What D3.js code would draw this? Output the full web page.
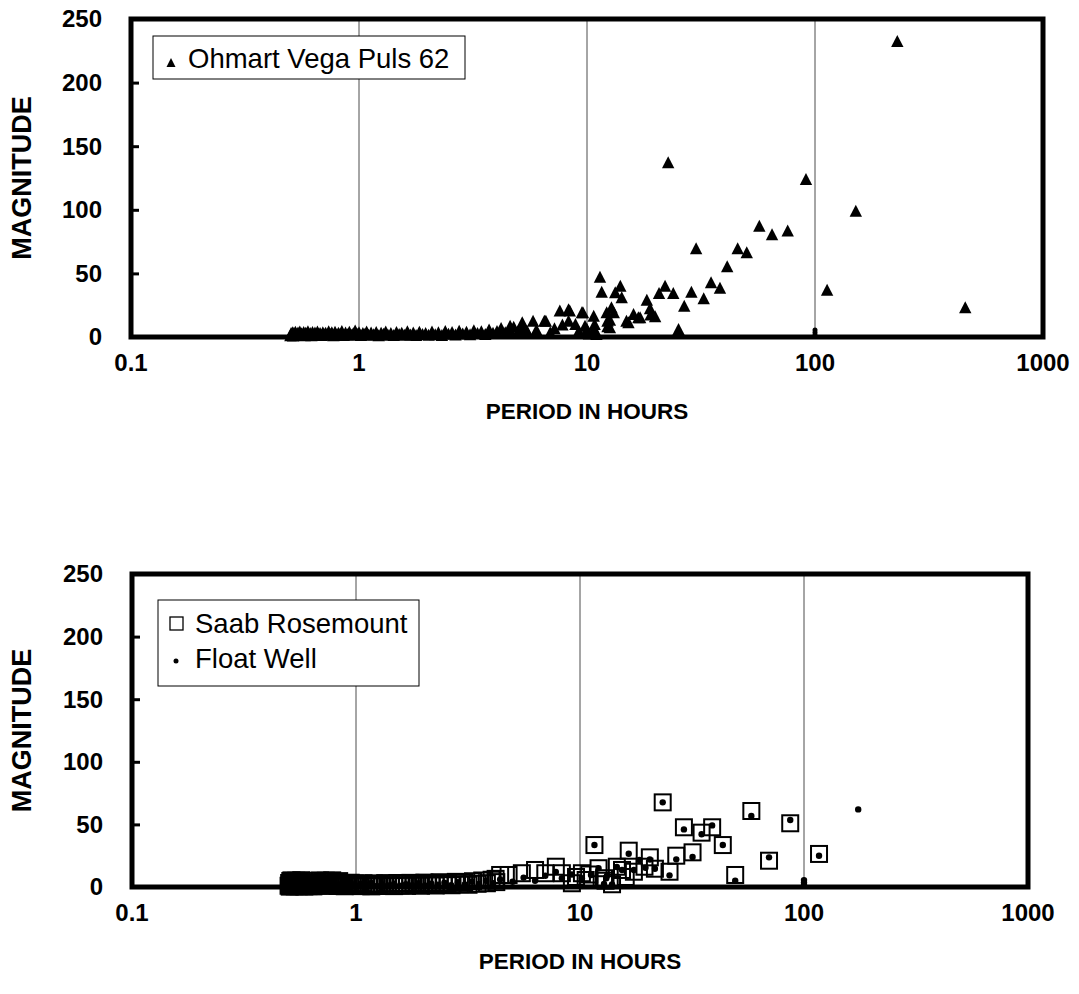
<!DOCTYPE html>
<html>
<head>
<meta charset="utf-8">
<script src="https://cdn.jsdelivr.net/npm/d3@7"></script>
<style>
  body { margin: 0; background: #fff; }
  text { font-family: "Liberation Sans", Arial, sans-serif; }
</style>
</head>
<body>
<div id="chart"></div>
<script>
// tick values
var xTicks = [0.1, 1, 10, 100, 1000];
var yTicks = [0, 50, 100, 150, 200, 250];
var gridTicks = [1, 10, 100];

// top chart: Ohmart Vega Puls 62, [period (h), magnitude]
var ohmartHigh = [
  [229.6,232],[22.7,136.5],[91.3,123.4],[151,98.5],[113,36.4],[456,22.6],
  [57,86.7],[64.8,80],[75.9,83],[45.8,69],[50.2,65.8],[30.1,69],[41.2,54.8],
  [35,42.2],[38.3,38],[32.5,29.6],[28.7,34.8],[26.7,23.8],[25.2,5.5],[22,39.5],
  [23.9,33.8],[20.7,33.8],[18.3,28.5],[18.9,21.8],[19.9,15.5],[17.1,14.7],[16,17.3],
  [15.2,10.8],[14,39.5],[14.2,30.4],[13.3,34.3],[11.4,46.6],[11.6,34.8],[12.8,22.6],
  [12.2,18.6],[12.6,12.8],[12.3,7.6],[10.7,16],[9.5,18.6],[10,5.5],[10.6,3],
  [14.9,12],[16.8,14.7],[19,17],[13.1,18.6],[12.3,12],[12.6,6.8],[10.8,9.4],
  [9.6,18.6],[8.4,20],[7.6,20],[8.3,12],[8.9,9.4],[6.6,12],[5.8,12],[5.2,10.8],
  [4.6,8.1],[6.5,12],[8.3,21],[10.2,2],[11,1.5],[9.2,4],[7.2,6],[6.9,3],[6,5],
  [5.5,2.5],[7.8,9],[9.8,8],[10.9,4]
];
var ohmartLow = [
  [0.50,0.6],[0.503,2.1],[0.507,1.3],[0.51,3.0],[0.514,0.4],[0.518,2.5],[0.522,1.0],
  [0.526,3.4],[0.53,1.8],[0.535,0.7],[0.54,2.8],[0.545,1.5],[0.55,3.6],[0.555,0.9],
  [0.56,2.2],[0.566,1.2],[0.572,3.1],[0.578,0.5],[0.584,2.6],[0.59,1.7],[0.597,3.8],
  [0.604,1.0],[0.611,2.3],[0.618,0.6],[0.625,3.2],[0.633,1.4],[0.641,2.7],[0.649,0.8],
  [0.657,3.5],[0.666,1.9],[0.675,2.4],[0.684,0.7],[0.694,3.0],[0.704,1.3],[0.714,2.6],
  [0.725,0.9],[0.736,3.7],[0.748,1.6],[0.76,2.9],[0.772,0.5],[0.785,3.3],[0.798,1.1],
  [0.812,2.5],[0.826,1.8],[0.841,3.9],[0.857,0.8],[0.873,2.7],[0.89,1.4],[0.907,3.4],
  [0.925,1.0],[0.943,2.2],[0.962,4.3],[0.982,1.5],[1.0,3.0],[1.02,0.7],[1.04,2.4],
  [1.06,1.6],[1.08,3.5],[1.10,0.9],[1.13,2.8],[1.16,1.3],[1.19,3.2],[1.22,0.6],
  [1.25,2.5],[1.28,1.7],[1.31,3.6],[1.34,1.0],[1.38,2.3],[1.42,0.8],[1.46,3.1],
  [1.50,1.5],[1.54,2.6],[1.58,0.9],[1.63,3.8],[1.68,1.2],[1.73,2.7],[1.78,0.7],
  [1.84,3.3],[1.90,1.6],[1.96,2.4],[2.02,1.0],[2.09,3.5],[2.16,1.4],[2.23,2.9],
  [2.31,0.8],[2.39,3.9],[2.47,1.8],[2.56,3.1],[2.65,1.2],[2.75,4.2],[2.85,2.0],
  [2.96,3.4],[3.07,1.3],[3.19,4.6],[3.31,2.3],[3.44,3.7],[3.58,1.6],[3.72,5.1],
  [3.87,2.6],[4.03,4.0],[4.20,6.2],[4.38,2.9],[4.57,5.4],[4.77,7.3],[4.98,3.5],
  [5.2,6.0],[5.45,4.2]
];
var ohmartMarks = [[100,1.5],[100,3.5],[100,5.5]];

// bottom chart: Saab Rosemount (squares) and Float Well (dots)
var saabHigh = [
  [23.4,67.6],[58.2,60.7],[86.8,50.9],[116.7,26.4],[69.8,21],[49.3,9.6],[43.4,33.5],
  [38.9,47.7],[34.9,43.4],[29.1,47.7],[31.8,27.7],[26.9,25],[25.1,12.2],[21.6,14.6],
  [20.5,23.7],[16.5,29],[17.4,12.2],[19.4,16.2],[11.6,33.5],[12.1,15],[14.6,16.2],
  [15.4,13.6],[13.9,2.2],[12.8,7],[10.6,5.6],[10.2,11],[9.2,3],[7.8,16.2],[8.3,11],
  [7.0,11],[6.3,13.6],[5.5,11],[4.8,9.6],[4.4,9.6],[9.6,8],[11,10],[13,5],[16,8]
];
var saabLow = [
  [0.500,1.0],[0.503,3.2],[0.506,0.3],[0.509,4.8],[0.512,2.0],[0.515,5.3],[0.518,0.8],
  [0.521,3.7],[0.525,1.6],[0.529,4.4],[0.533,0.5],[0.537,2.9],[0.541,5.0],[0.545,1.3],
  [0.55,3.5],[0.555,0.6],[0.56,4.6],[0.565,2.2],[0.57,5.4],[0.576,1.0],[0.582,3.0],
  [0.588,0.4],[0.594,2.5],[0.60,1.4],[0.607,3.3],[0.614,0.7],[0.621,2.0],[0.629,1.1],
  [0.637,2.8],[0.645,0.5],[0.654,1.7],[0.663,3.6],[0.672,4.9],[0.681,1.2],[0.691,5.2],
  [0.701,2.4],[0.711,4.4],[0.722,0.9],[0.733,5.0],[0.745,2.7],[0.757,4.1],[0.77,1.3],
  [0.783,5.3],[0.797,2.0],[0.811,3.8],[0.826,0.8],[0.841,4.7],[0.857,1.7],[0.874,3.2],
  [0.891,0.6],[0.909,2.6],[0.928,1.5],[0.947,3.4],[0.967,0.9],[0.988,2.8],[1.01,1.2],
  [1.03,2.5],[1.05,0.7],[1.08,3.0],[1.11,1.4],[1.14,2.2],[1.17,0.5],[1.20,2.9],
  [1.23,1.1],[1.27,2.4],[1.31,0.8],[1.35,3.1],[1.39,1.5],[1.43,2.6],[1.48,0.7],
  [1.53,3.2],[1.58,1.3],[1.63,2.5],[1.69,0.9],[1.75,3.3],[1.81,1.6],[1.88,2.7],
  [1.95,1.0],[2.02,3.5],[2.10,1.7],[2.18,2.9],[2.27,1.2],[2.36,3.8],[2.46,2.0],
  [2.56,3.2],[2.67,1.4],[2.79,4.1],[2.91,2.3],[3.04,3.6],[3.18,1.8],[3.33,4.6],
  [3.49,2.6],[3.66,5.2],[3.84,3.0],[4.03,5.8],[4.23,3.9],[4.20,6.5]
];
var floatHigh = [
  [23.4,67.6],[58.2,56.7],[86.8,53.5],[174.6,62],[116.7,25],[69.8,23.7],[49.3,5],
  [43.4,33.5],[38.9,49.2],[34.9,42.1],[29.1,46],[31.8,24],[26.9,22.1],[25.1,9.3],
  [21.6,14.6],[20.5,22],[16.5,26.6],[17.4,13.6],[18.4,21.6],[19.6,15.4],[11.6,33.5],
  [12.1,15],[13.1,7],[11.2,9.6],[10.2,7],[14.6,16],[15.4,13.6],[13.9,2],[12.8,2.5],
  [9.2,10],[7.8,12],[8.3,7],[7.0,9],[6.3,5],[13.2,9],
  [100,1.5],[100,3.5],[100,5.5]
];
var floatLow = [
  [0.50,2.0],[0.52,4.0],[0.54,1.2],[0.56,3.3],[0.58,0.6],[0.60,2.6],[0.63,1.5],
  [0.66,3.8],[0.69,0.9],[0.72,2.4],[0.75,1.7],[0.78,3.1],[0.82,0.8],[0.86,2.2],
  [0.90,1.4],[0.95,2.9],[1.00,1.0],[1.05,2.5],[1.11,1.6],[1.17,3.2],[1.24,0.9],
  [1.31,2.1],[1.39,1.3],[1.48,2.7],[1.57,1.0],[1.67,2.3],[1.78,1.5],[1.90,3.0],
  [2.03,1.2],[2.17,2.6],[2.32,1.9],[2.48,3.4],[2.66,1.4],[2.85,3.8],[3.06,2.1],
  [3.29,4.3],[3.54,2.5],[3.81,5.0],[4.10,3.1],[4.40,6.0],[5.0,4.2],[5.6,7.5]
];

var W = 1079, H = 994;
var svg = d3.select("#chart").append("svg")
    .attr("width", W)
    .attr("height", H);

var xFmt = function(d){ return d < 1 ? "0.1" : d3.format("d")(d); };

function drawPanel(p) {
    var x = d3.scaleLog().domain([0.1, 1000]).range([p.left, p.right]);
    var y = d3.scaleLinear().domain([0, 250]).range([p.bottom, p.top]);

    var g = svg.append("g");

    // vertical gridlines
    g.selectAll(".grid")
        .data(gridTicks)
        .enter().append("line")
        .attr("x1", function(d){ return x(d); })
        .attr("x2", function(d){ return x(d); })
        .attr("y1", p.top)
        .attr("y2", p.bottom)
        .attr("stroke", "#4d4d4d")
        .attr("stroke-width", 1);

    // frame
    g.append("rect")
        .attr("x", p.left)
        .attr("y", p.top)
        .attr("width", p.right - p.left)
        .attr("height", p.bottom - p.top)
        .attr("fill", "none")
        .attr("stroke", "#000")
        .attr("stroke-width", 5);

    // y axis: inward ticks
    var yAxis = d3.axisRight(y).tickValues(yTicks).tickSize(8).tickFormat("");
    g.append("g")
        .attr("transform", "translate(" + p.left + ",0)")
        .call(yAxis)
        .call(function(s){
            s.select(".domain").remove();
            s.selectAll(".tick line").attr("stroke-width", 3).attr("stroke", "#000");
        });

    g.selectAll(".ylab")
        .data(yTicks)
        .enter().append("text")
        .attr("x", p.left - 29)
        .attr("y", function(d){ return y(d); })
        .attr("dy", "0.35em")
        .attr("text-anchor", "end")
        .attr("font-size", 24)
        .attr("font-weight", "bold")
        .text(function(d){ return d; });

    g.selectAll(".xlab")
        .data(xTicks)
        .enter().append("text")
        .attr("x", function(d){ return x(d); })
        .attr("y", p.bottom + 26)
        .attr("dy", "0.35em")
        .attr("text-anchor", "middle")
        .attr("font-size", 24)
        .attr("font-weight", "bold")
        .text(xFmt);

    g.append("text")
        .attr("x", (p.left + p.right) / 2)
        .attr("y", p.bottom + 74)
        .attr("dy", "0.35em")
        .attr("text-anchor", "middle")
        .attr("font-size", 22.5)
        .attr("font-weight", "bold")
        .text("PERIOD IN HOURS");

    g.append("text")
        .attr("transform", "translate(22," + (p.top + p.bottom) / 2 + ") rotate(-90)")
        .attr("dy", "0.35em")
        .attr("text-anchor", "middle")
        .attr("font-size", 27)
        .attr("font-weight", "bold")
        .text("MAGNITUDE");

    p.draw(g, x, y);
}

// excel-style triangle marker, about 12 px wide and tall
var tri = "M0,-7L6.2,5L-6.2,5Z";

// top panel
drawPanel({
    left: 131, right: 1043, top: 19, bottom: 337,
    draw: function(g, x, y) {
        g.selectAll(".om")
            .data(ohmartMarks)
            .enter().append("circle")
            .attr("cx", function(d){ return x(d[0]); })
            .attr("cy", function(d){ return y(d[1]); })
            .attr("r", 2.5)
            .attr("fill", "#000");

        g.selectAll(".tri")
            .data(ohmartLow.concat(ohmartHigh))
            .enter().append("path")
            .attr("d", tri)
            .attr("transform", function(d){ return "translate(" + x(d[0]) + "," + y(d[1]) + ")"; })
            .attr("fill", "#000");

        // legend
        var lg = g.append("g");
        lg.append("rect")
            .attr("x", 153).attr("y", 36)
            .attr("width", 312).attr("height", 43)
            .attr("fill", "#fff")
            .attr("stroke", "#000")
            .attr("stroke-width", 1);
        lg.append("path")
            .attr("d", "M0,-5L4.5,4L-4.5,4Z")
            .attr("transform", "translate(171,63)")
            .attr("fill", "#000");
        lg.append("text")
            .attr("x", 188).attr("y", 68)
            .attr("font-size", 27.5)
            .text("Ohmart Vega Puls 62");
    }
});

// bottom panel
drawPanel({
    left: 132, right: 1028, top: 574, bottom: 887,
    draw: function(g, x, y) {
        g.selectAll(".sq")
            .data(saabLow.concat(saabHigh))
            .enter().append("rect")
            .attr("x", function(d){ return x(d[0]) - 8; })
            .attr("y", function(d){ return y(d[1]) - 8; })
            .attr("width", 16)
            .attr("height", 16)
            .attr("fill", "none")
            .attr("stroke", "#000")
            .attr("stroke-width", 2);

        g.selectAll(".dot")
            .data(floatLow.concat(floatHigh))
            .enter().append("circle")
            .attr("cx", function(d){ return x(d[0]); })
            .attr("cy", function(d){ return y(d[1]); })
            .attr("r", 3.2)
            .attr("fill", "#000");

        // legend
        var lg = g.append("g");
        lg.append("rect")
            .attr("x", 158).attr("y", 600)
            .attr("width", 261).attr("height", 86)
            .attr("fill", "#fff")
            .attr("stroke", "#000")
            .attr("stroke-width", 1);
        lg.append("rect")
            .attr("x", 170).attr("y", 617)
            .attr("width", 13).attr("height", 13)
            .attr("fill", "none")
            .attr("stroke", "#000")
            .attr("stroke-width", 1.3);
        lg.append("text")
            .attr("x", 195).attr("y", 633)
            .attr("font-size", 27.5)
            .text("Saab Rosemount");
        lg.append("circle")
            .attr("cx", 176).attr("cy", 661)
            .attr("r", 2.5)
            .attr("fill", "#000");
        lg.append("text")
            .attr("x", 195).attr("y", 668)
            .attr("font-size", 27.5)
            .text("Float Well");
    }
});
</script>
</body>
</html>
